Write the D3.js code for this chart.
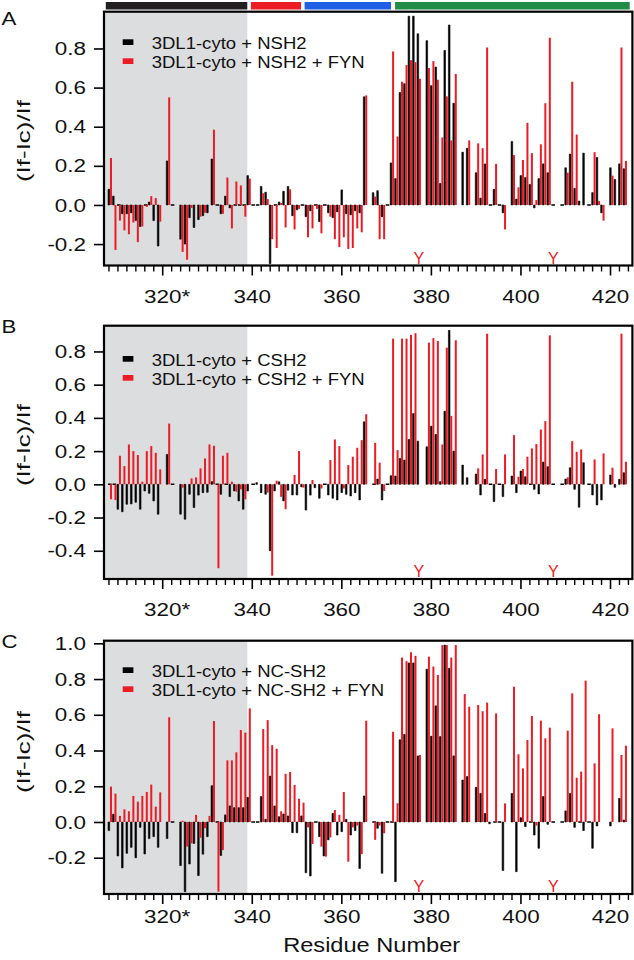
<!DOCTYPE html>
<html><head><meta charset="utf-8">
<script src="https://cdn.jsdelivr.net/npm/d3@7"></script>
<style>body{margin:0;background:#fff} svg{display:block}</style>
</head><body>
<svg id="chart" width="634" height="960"></svg>
<script>
// ---------------- DATA ----------------
const residues = [308,309,310,311,312,313,314,315,316,317,
318,319,320,321,322,323,324,325,326,327,
328,329,330,331,332,333,334,335,336,337,
338,339,340,341,342,343,344,345,346,347,
348,349,350,351,352,353,354,355,356,357,
358,359,360,361,362,363,364,365,366,367,
368,369,370,371,372,373,374,375,376,377,
378,379,380,381,382,383,384,385,386,387,
388,389,390,391,392,393,394,395,396,397,
398,399,400,401,402,403,404,405,406,407,
408,409,410,411,412,413,414,415,416,417,
418,419,420,421,422,423];

// Panel A: 3DL1-cyto + NSH2 (black) / + NSH2 + FYN (red)
const nsh2 = [0.08,0.045,0,-0.045,-0.045,-0.04,-0.08,-0.11,0,0.015,
-0.08,-0.21,null,0.225,0,null,-0.175,-0.2,-0.065,-0.115,
-0.075,-0.055,-0.04,0.235,0,-0.045,0.045,-0.015,0,0,
0,0.15,0,0,0.095,0.065,-0.3,0,0.015,0.07,
0.095,-0.055,-0.025,0,-0.06,-0.03,0,-0.085,0,-0.04,
-0.065,-0.035,0.077,-0.045,-0.05,-0.03,-0.04,0.553,null,0.063,
0.073,-0.06,0,0.215,0.135,0.575,0.62,0.965,0.965,0.875,
null,0.84,0.61,0.705,0.11,0.79,0.92,0.52,null,0.27,
0.29,null,0.165,0.035,0.21,0,0.08,0,-0.04,null,
0.325,0.03,0.15,0.14,0.105,-0.015,0.135,0.21,0.165,0,
null,0,0.19,0.26,0.085,0.02,0.265,0,0.063,0.243,
-0.04,null,0.19,0.13,0.21,0.185];
const nsh2Fyn = [0.24,-0.23,-0.08,-0.13,-0.15,-0.09,-0.19,-0.11,-0.01,0.045,
0.035,-0.085,null,0.55,null,null,-0.24,-0.28,-0.015,0,
-0.06,-0.04,0,0.385,0,-0.045,0.14,-0.12,0.12,0.1,
-0.06,0.135,null,null,0.06,0.03,-0.175,-0.22,0.01,-0.115,
0.08,-0.125,-0.02,null,-0.165,-0.12,-0.02,-0.145,null,-0.06,
-0.175,-0.215,-0.165,-0.225,-0.22,-0.12,-0.14,0.56,null,0.043,
-0.175,-0.175,null,0.785,0.35,0.63,0.715,0.74,0.73,0.645,
null,0.7,0.735,0.64,0.345,0.555,0.33,0.67,null,0,
0.33,null,0.315,0.29,0.805,0,0.21,null,-0.125,null,
0.255,0.09,0.23,0.42,0.265,0.025,0.31,0.52,0.855,0,
null,null,0.165,0.63,0.36,0,null,null,0.27,0.02,
-0.08,null,0.15,null,0.805,0.225];

// Panel B: CSH2
const csh2 = [0,0,-0.15,-0.165,-0.12,-0.118,-0.108,-0.15,-0.04,-0.054,
-0.1,-0.18,null,0.18,0,null,-0.18,-0.21,-0.06,-0.14,
-0.065,-0.05,-0.048,0.016,0,-0.06,0,-0.074,-0.04,-0.1,
-0.15,-0.04,0,0.01,-0.05,-0.06,-0.4,-0.04,0.015,-0.1,
-0.035,-0.064,-0.064,-0.015,-0.155,-0.065,-0.02,-0.084,0,-0.064,
-0.084,-0.094,-0.05,-0.06,-0.07,-0.05,-0.094,0.376,null,0,
0.032,-0.094,0,0.052,0.05,0.156,0.146,0.27,0.426,0.26,
null,0.226,0.35,0.3,0.016,0.44,0.927,0.2,null,0.116,
0.04,null,0.062,-0.064,0.03,0,-0.104,0,-0.074,null,
0.05,-0.05,0.08,0.046,0,-0.03,-0.058,0.134,0.106,0,
null,0,0.032,0.1,-0.03,-0.138,0.13,0,-0.064,-0.124,
-0.094,null,0.056,-0.018,0.03,0.07];
const csh2Fyn = [-0.09,-0.095,0.172,0.11,0.24,0.2,0.176,0.016,0.2,0.23,
0.19,0.09,null,0.366,null,null,-0.02,0,0.036,0.042,
0.096,0.156,0.24,0.232,-0.505,0.172,0.19,0.016,-0.044,-0.03,
-0.09,null,null,null,null,-0.05,-0.55,0.022,-0.075,-0.15,
0,0.056,0.2,-0.02,0,0.026,null,-0.025,null,0.146,
0.27,0.23,-0.025,0.116,0.166,0.22,0.266,0.422,null,0.25,
0.13,-0.04,null,0.877,0.206,0.877,0.877,0.9,0.91,null,
null,0.853,0.88,0.863,0.24,0.823,0.412,0.867,null,null,
null,null,0.096,0.18,0.907,null,0.092,null,0.18,null,
0.296,0.046,0.092,0.166,0.216,0.242,0.33,0.38,0.897,null,
null,null,0.042,0.26,0.196,0.21,null,null,0.15,0,
0.186,null,0.1,null,0.907,0.136];

// Panel C: NC-SH2
const ncsh2 = [-0.048,0.043,-0.19,-0.257,-0.175,-0.142,-0.2,-0.03,-0.179,-0.093,
-0.082,-0.142,null,-0.093,0,null,-0.244,-0.39,-0.235,-0.12,
-0.3,-0.18,-0.082,0.203,0,-0.187,0.04,0.09,0.08,0.08,
0.08,0.138,0,0,0.142,0.015,0.257,0.09,0.03,0.045,
0.034,-0.06,-0.06,0.034,-0.284,-0.302,0,-0.082,-0.19,-0.1,
0.048,-0.073,-0.054,0.015,-0.073,-0.048,-0.26,0.146,null,0,
-0.035,-0.287,0,0,-0.334,0.46,0.49,0.89,0.89,0.37,
null,0.855,0.48,0.65,0.478,0.99,0.86,0.37,null,0.235,
0.254,null,0.194,0.16,0.048,-0.01,0,0,-0.272,null,
0.16,-0.278,0.024,-0.026,0,-0.073,-0.147,0.142,-0.013,0,
null,0,0.062,0.16,-0.03,0,-0.048,0,-0.147,-0.022,
null,null,-0.022,null,0.132,0.011];
const ncsh2Fyn = [0.198,0.159,0.034,0.071,0.06,0.146,0.114,0.146,0.168,0.209,
0.086,0.166,null,0.586,null,null,0.007,-0.138,-0.12,0.04,
-0.088,-0.035,0.034,0.565,-0.39,-0.157,0.345,0.345,0.39,0.515,
0.5,0.636,null,null,0.52,0.57,0.43,0.41,0.06,0.27,
0.28,0.207,0.13,0.108,-0.03,-0.123,null,-0.138,-0.194,-0.086,
0.067,0.04,0.168,-0.222,-0.03,-0.02,-0.18,0.567,null,-0.1,
-0.02,-0.063,null,0.505,0.105,0.92,0.9,0.95,0.93,0.375,
null,0.925,0.87,0.823,0.99,0.99,0.92,0.99,null,0.716,
0.645,null,0.655,0.62,0.668,null,0.608,null,0.104,null,
0.757,0.379,0.3,0.459,0.593,-0.02,0.567,0.468,0.528,null,
null,null,0.511,0.72,0.248,0.282,0.791,null,0.328,0.603,
null,null,0.524,null,0.375,0.427];

const xTickValues = [320, 340, 360, 380, 400, 420];
const xTickLabels = ["320*", "340", "360", "380", "400", "420"];
const yTicksA = [-0.2, 0, 0.2, 0.4, 0.6, 0.8];
const yTicksB = [-0.4, -0.2, 0, 0.2, 0.4, 0.6, 0.8];
const yTicksC = [-0.2, 0, 0.2, 0.4, 0.6, 0.8, 1.0];
const tyrosines = [377, 407];
const shadedUntil = 339;
const regionStarts = [307.4, 339.8, 351.8, 372.0];
const regionEnds   = [339.0, 351.0, 371.1, 424.4];
const regionColors = ["#231f20", "#ec1c24", "#1f5fe6", "#228b45"];
const legendA = ["3DL1-cyto + NSH2", "3DL1-cyto + NSH2 + FYN"];
const legendB = ["3DL1-cyto + CSH2", "3DL1-cyto + CSH2 + FYN"];
const legendC = ["3DL1-cyto + NC-SH2", "3DL1-cyto + NC-SH2 + FYN"];

// ---------------- LAYOUT ----------------
const FONT = "'Liberation Sans', Arial, Helvetica, sans-serif";
const RED = "#ec1c24";
const SX = 1.18;      // reference lettering is horizontally stretched
const svg = d3.select("#chart");
const x = d3.scaleLinear().domain([307, 425]).range([104, 632.4]);

const panels = [
  {letter:"A", top:11.7, bottom:265.5, dom:[-0.3095, 0.988], ticks:yTicksA,
   black:nsh2, red:nsh2Fyn, legend:legendA, legY:39.3, labOff:37.5, titleY:141, letterY:25},
  {letter:"B", top:325.7, bottom:579, dom:[-0.570, 0.955], ticks:yTicksB,
   black:csh2, red:csh2Fyn, legend:legendB, legY:356, labOff:37.5, titleY:445, letterY:333},
  {letter:"C", top:640.7, bottom:894, dom:[-0.403, 1.0146], ticks:yTicksC,
   black:ncsh2, red:ncsh2Fyn, legend:legendC, legY:667.3, labOff:29, titleY:752, letterY:648}
];

// top residue-region bars
svg.append("g").selectAll("rect").data(regionStarts).join("rect")
  .attr("x", (d) => x(d))
  .attr("width", (d, i) => x(regionEnds[i]) - x(d))
  .attr("y", 2).attr("height", 7.5)
  .attr("fill", (d, i) => regionColors[i]);

panels.forEach(p => {
  const y = d3.scaleLinear().domain(p.dom).range([p.bottom, p.top]);
  const g = svg.append("g");
  const [x0, x1] = x.range();

  // shaded region
  g.append("rect").attr("x", x0).attr("y", p.top)
    .attr("width", x(shadedUntil) - x0).attr("height", p.bottom - p.top)
    .attr("fill", "#dcdddf");

  // bars
  const rows = residues.map((r, i) => ({r, b: p.black[i], rd: p.red[i]}));
  g.append("g").selectAll("path").data(rows.filter(d => d.b !== null)).join("path")
    .attr("d", d => {
      const xl = x(d.r) - 0.4, xr = d.b === 0 ? x(d.r) + 3.2 : x(d.r) + 1.2;
      return `M${xl},${y(0)}H${xr}V${y(d.b)}H${xl}Z`;
    })
    .attr("fill", "#000").attr("stroke", "#000")
    .attr("stroke-width", d => d.b === 0 ? 1.4 : 0.6);
  g.append("g").selectAll("rect").data(rows.filter(d => d.rd !== null && d.rd !== 0)).join("rect")
    .attr("x", d => x(d.r) + 1.5).attr("width", 2)
    .attr("y", d => Math.min(y(0), y(d.rd)))
    .attr("height", d => Math.abs(y(d.rd) - y(0)))
    .attr("fill", RED);

  // frame
  g.append("rect").attr("x", x0).attr("y", p.top)
    .attr("width", x1 - x0).attr("height", p.bottom - p.top)
    .attr("fill", "none").attr("stroke", "#000").attr("stroke-width", 2.2);

  // y axis
  const ya = g.append("g").attr("transform", `translate(${x0},0)`)
    .call(d3.axisLeft(y).tickValues(p.ticks).tickSize(10).tickSizeOuter(0)
      .tickFormat(d => d.toFixed(1)));
  ya.select(".domain").remove();
  ya.selectAll("line").attr("stroke-width", 1.6);
  ya.selectAll("text").attr("x", -18 / SX).attr("transform", `scale(${SX},1)`)
    .attr("font-family", FONT).attr("font-size", 19).attr("fill", "#111");

  // x axis: minor then major
  const xm = g.append("g").attr("transform", `translate(0,${p.bottom})`)
    .call(d3.axisBottom(x).tickValues(d3.range(308, 425, 2).filter(v => v % 20 !== 0))
      .tickSize(6).tickSizeOuter(0).tickFormat(""));
  xm.select(".domain").remove();
  xm.selectAll("line").attr("stroke-width", 1.4);
  const xa = g.append("g").attr("transform", `translate(0,${p.bottom})`)
    .call(d3.axisBottom(x).tickValues(xTickValues).tickSize(10).tickSizeOuter(0)
      .tickFormat((d, i) => xTickLabels[i]));
  xa.select(".domain").remove();
  xa.selectAll("line").attr("stroke-width", 1.6);
  xa.selectAll("text").attr("y", p.labOff).attr("dy", 0)
    .attr("dx", d => String(d) === "320" ? 3.7 : 0)
    .attr("transform", `scale(${SX},1)`)
    .attr("font-family", FONT).attr("font-size", 19).attr("fill", "#111");

  // tyrosine markers
  g.append("g").selectAll("text").data(tyrosines).join("text")
    .attr("x", d => x(d) + 1.5).attr("y", p.bottom - 2)
    .attr("text-anchor", "middle").attr("font-family", FONT)
    .attr("font-size", 16).attr("fill", RED).text("Y");

  // legend
  const lg = g.append("g");
  [0, 1].forEach(k => {
    lg.append("rect").attr("x", 122.7).attr("y", p.legY + k * 19)
      .attr("width", 10.7).attr("height", 5.7).attr("fill", k ? RED : "#000");
    lg.append("text")
      .attr("transform", `translate(151.7,${p.legY + 9.7 + k * 19}) scale(1.09,1)`)
      .attr("font-family", FONT).attr("font-size", 17).attr("fill", "#111")
      .text(p.legend[k]);
  });

  // y title
  g.append("text").attr("transform", `translate(29.5,${p.titleY}) rotate(-90)`)
    .attr("text-anchor", "middle").attr("font-family", FONT).attr("font-size", 18)
    .attr("textLength", 82).attr("lengthAdjust", "spacingAndGlyphs")
    .attr("fill", "#111").text("(If-Ic)/If");

  // panel letter
  g.append("text").attr("transform", `translate(1.5,${p.letterY}) scale(1.2,1)`)
    .attr("font-family", FONT).attr("font-size", 18.5).attr("fill", "#111").text(p.letter);
});

// x title
svg.append("text").attr("x", (x.range()[0] + x.range()[1]) / 2 + 3.5).attr("y", 951.5)
  .attr("text-anchor", "middle").attr("font-family", FONT).attr("font-size", 19.5)
  .attr("textLength", 177).attr("lengthAdjust", "spacingAndGlyphs")
  .attr("fill", "#111").text("Residue Number");
</script>
</body></html>
